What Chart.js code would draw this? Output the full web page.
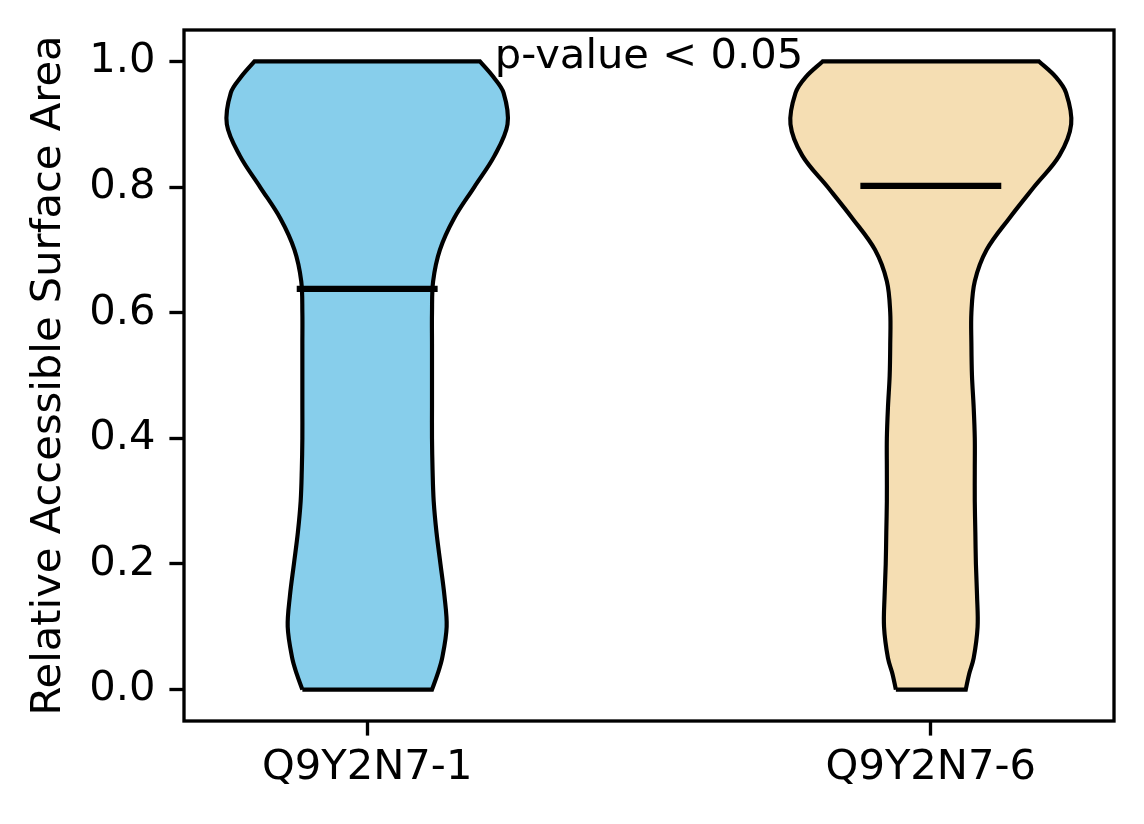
<!DOCTYPE html>
<html>
<head>
<meta charset="utf-8">
<title>Relative Accessible Surface Area</title>
<script src="https://cdn.jsdelivr.net/npm/chart.js@4.4.0/dist/chart.umd.min.js"></script>
<style>
  html, body { margin: 0; padding: 0; background: #fff; }
  #wrap { width: 1144px; height: 824px; }
</style>
</head>
<body>
<div id="wrap"><canvas id="violinChart"></canvas></div>
<script>
// isoforms and where they sit on the x axis
const categories = ['Q9Y2N7-1', 'Q9Y2N7-6'];
const positions = [1, 2];
const fillColors = ['#87ceeb', '#f5deb3'];

// violin outline: half width (x units) at each RSA level
const levels = [0, 0.025, 0.05, 0.1, 0.15, 0.2, 0.25, 0.3, 0.35, 0.4, 0.45, 0.5,
                0.55, 0.6, 0.65, 0.7, 0.75, 0.8, 0.85, 0.9, 0.95, 0.975, 1.0];
const halfWidth1 = [0.115, 0.125, 0.133, 0.141, 0.137, 0.130, 0.123, 0.118, 0.116, 0.115, 0.115, 0.115,
                    0.115, 0.115, 0.117, 0.129, 0.154, 0.190, 0.226, 0.249, 0.242, 0.224, 0.200];
const halfWidth2 = [0.062, 0.068, 0.076, 0.083, 0.082, 0.080, 0.079, 0.078, 0.078, 0.078, 0.076, 0.073,
                    0.072, 0.072, 0.078, 0.099, 0.139, 0.183, 0.228, 0.249, 0.240, 0.222, 0.192];
const medians = [0.638, 0.802];

const yTicks = [0, 0.2, 0.4, 0.6, 0.8, 1.0];
const pText = 'p-value < 0.05';
const pTextPos = [1.5, 0.99];

const FONT = 'DejaVu Sans';
const FS = 41.67;

function outline(pos, hw) {
  const right = levels.map((y, i) => ({x: pos + hw[i], y: y}));
  const left = levels.map((y, i) => ({x: pos - hw[i], y: y})).reverse();
  const n = right.length;
  // corners doubled so the curve stays flat along the cut ends
  return [left[n - 1], right[0], ...right, right[n - 1], left[0], ...left];
}

const profiles = [halfWidth1, halfWidth2];
const datasets = [];
positions.forEach((pos, i) => {
  datasets.push({
    data: [{x: pos - 0.125, y: medians[i]}, {x: pos + 0.125, y: medians[i]}],
    borderColor: '#000',
    borderWidth: 6.25,
    borderCapStyle: 'butt',
    fill: false,
    pointRadius: 0,
    order: 0
  });
  datasets.push({
    data: outline(pos, profiles[i]),
    borderColor: '#000',
    borderWidth: 4.17,
    backgroundColor: fillColors[i],
    fill: 'shape',
    tension: 0.35,
    pointRadius: 0,
    order: 1
  });
});

const frameAndText = {
  id: 'frameAndText',
  afterDatasetsDraw(chart) {
    const {ctx, chartArea: a, scales} = chart;
    ctx.save();
    ctx.fillStyle = '#000';
    ctx.font = FS + 'px "' + FONT + '"';
    ctx.textAlign = 'center';
    ctx.textBaseline = 'alphabetic';
    ctx.fillText(pText, scales.x.getPixelForValue(pTextPos[0]), scales.y.getPixelForValue(pTextPos[1]));
    ctx.strokeStyle = '#000';
    ctx.lineWidth = 3.33;
    ctx.strokeRect(a.left, a.top, a.right - a.left, a.bottom - a.top);
    ctx.restore();
  }
};

new Chart(document.getElementById('violinChart').getContext('2d'), {
  type: 'line',
  data: { datasets: datasets },
  options: {
    responsive: true,
    maintainAspectRatio: false,
    animation: false,
    events: [],
    layout: { padding: { top: 30, right: 30, left: 0, bottom: 0 } },
    plugins: {
      legend: { display: false },
      tooltip: { enabled: false }
    },
    scales: {
      x: {
        type: 'linear',
        min: 0.675,
        max: 2.325,
        afterBuildTicks: axis => { axis.ticks = positions.map(v => ({value: v})); },
        afterFit: axis => { axis.height = 103; axis.paddingLeft = 0; axis.paddingRight = 0; },
        ticks: {
          callback: v => categories[positions.indexOf(v)],
          font: { family: FONT, size: FS },
          color: '#000',
          padding: 8,
          maxRotation: 0,
          autoSkip: false
        },
        grid: { drawOnChartArea: false, drawTicks: true, tickLength: 14.6, tickWidth: 3.33, tickColor: '#000' },
        border: { display: false }
      },
      y: {
        type: 'linear',
        min: -0.05,
        max: 1.05,
        afterBuildTicks: axis => { axis.ticks = yTicks.map(v => ({value: v})); },
        afterFit: axis => { axis.width = 184; axis.paddingTop = 0; axis.paddingBottom = 0; },
        ticks: {
          callback: v => v.toFixed(1),
          font: { family: FONT, size: FS },
          color: '#000',
          padding: 14
        },
        title: {
          display: true,
          text: 'Relative Accessible Surface Area',
          font: { family: FONT, size: FS },
          color: '#000',
          padding: 24
        },
        grid: { drawOnChartArea: false, drawTicks: true, tickLength: 14.6, tickWidth: 3.33, tickColor: '#000' },
        border: { display: false }
      }
    }
  },
  plugins: [frameAndText]
});
</script>
</body>
</html>
